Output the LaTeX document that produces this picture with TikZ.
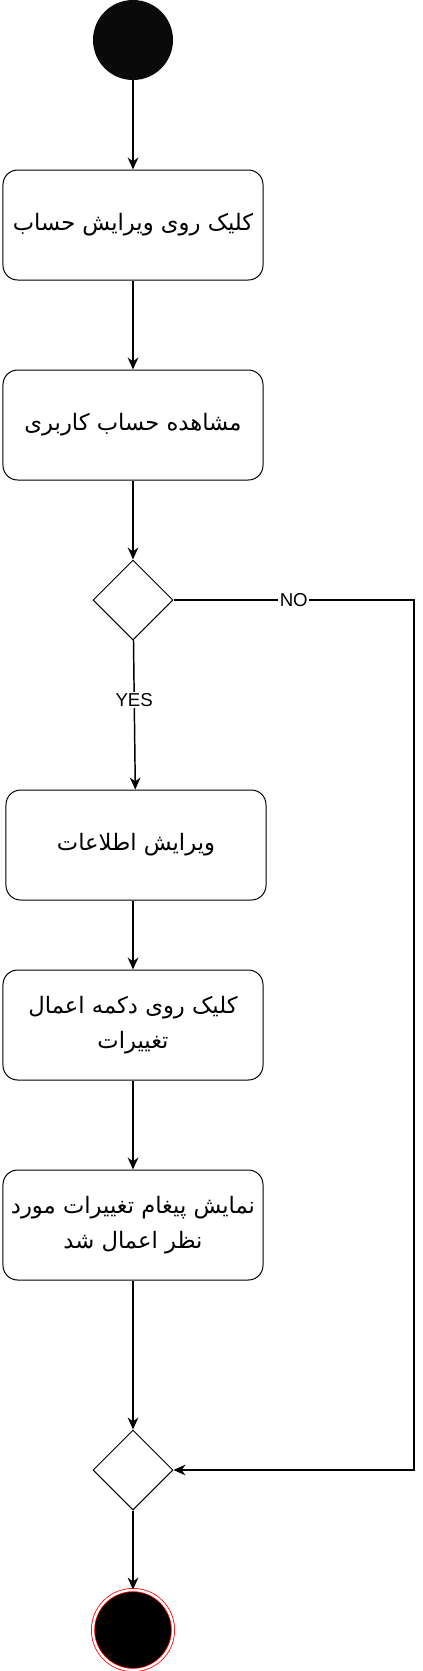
\documentclass[tikz,border=0pt]{standalone}
\usepackage{fontspec}
\setmainfont{Liberation Sans}
\newfontfamily\farsi[Script=Arabic]{DejaVu Sans}
\TeXXeTstate=1
\usepackage{tikz}
\usetikzlibrary{shapes.geometric,arrows.meta,positioning}
\newcommand{\fa}[1]{\beginR #1\endR}
\tikzstyle{act} = [rectangle, rounded corners=11pt, draw, line width=0.75pt, minimum width=195pt, minimum height=82.5pt, inner xsep=1pt, align=center, font={\farsi\fontsize{17}{26}\selectfont}]
\tikzstyle{dec} = [diamond, draw, line width=0.75pt, minimum width=60pt, minimum height=60pt, inner sep=0pt]
\tikzstyle{lab} = [fill=white, inner sep=1pt, font={\fontsize{14}{16}\selectfont}]
\tikzstyle{arr} = [draw, line width=1.1pt, -{Stealth[length=9pt,width=8pt]}]

\begin{document}
\begin{tikzpicture}[on grid]
\useasboundingbox (-99.75pt,30pt) rectangle (216.75pt,-1223.25pt);
\node(S)[circle, fill=black!96, minimum size=60pt, inner sep=0pt] at (0,0) {};
\node(A)[act, below=138.75pt of S] {\fa{کلیک روی ویرایش حساب}};
\node(B)[act, below=150pt of A] {\fa{مشاهده حساب کاربری}};
\node(C)[dec, below=131.25pt of B] {};
\node(D)[act, below=183.75pt of C, xshift=2.25pt] {\fa{ویرایش اطلاعات}};
\node(E)[act, below=135pt of D, xshift=-2.25pt] {\fa{کلیک روی دکمه اعمال}\\\fa{تغییرات}};
\node(F)[act, below=150pt of E] {\fa{نمایش پیغام تغییرات مورد}\\\fa{نظر اعمال شد}};
\node(G)[dec, below=183.75pt of F] {};
\node(H)[circle, fill=black, draw=red, double=white, double distance=1.8pt, line width=0.6pt, minimum size=60pt, inner sep=0pt, below=120pt of G] {};
\coordinate[right=210.75pt of C] (N);

\draw[arr] (S) -- (A);
\draw[arr] (A) -- (B);
\draw[arr] (B) -- (C);
\draw[arr] (C) -- node[lab, pos=0.4]{YES} (D);
\draw[arr] (D.south -| E) -- (E);
\draw[arr] (E) -- (F);
\draw[arr] (F) -- (G);
\draw[arr] (G) -- (H);
\draw[arr] (C) -- node[lab]{NO} (N) |- (G);
\end{tikzpicture}
\end{document}
